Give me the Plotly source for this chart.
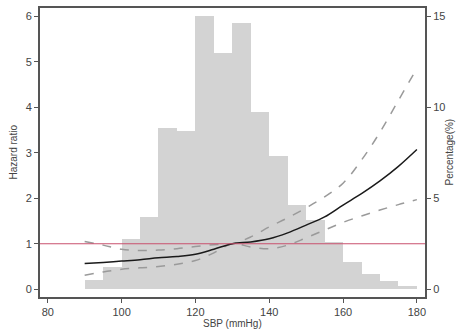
import plotly.graph_objects as go

# Histogram of SBP distribution (percentage per 5 mmHg bin)
bin_starts = [90, 95, 100, 105, 110, 115, 120, 125, 130, 135, 140, 145, 150, 155, 160, 165, 170, 175]
pct = [0.5, 1.2, 2.75, 3.97, 8.86, 8.7, 15.0, 13.0, 14.6, 9.74, 7.3, 4.65, 3.83, 2.57, 1.5, 0.86, 0.44, 0.18]

# Restricted cubic spline hazard ratio and 95% CI
sbp = [90, 95, 100, 105, 110, 115, 120, 125, 130, 135, 140, 145, 150, 155, 160, 165, 170, 175, 180]
hr = [0.565, 0.59, 0.62, 0.65, 0.69, 0.72, 0.77, 0.88, 1.0, 1.04, 1.11, 1.24, 1.41, 1.59, 1.85, 2.1, 2.38, 2.7, 3.07]
upper = [1.05, 0.97, 0.88, 0.85, 0.86, 0.89, 0.94, 0.98, 1.0, 1.15, 1.37, 1.57, 1.79, 2.03, 2.33, 2.84, 3.45, 4.15, 4.85]
lower = [0.31, 0.38, 0.44, 0.47, 0.5, 0.55, 0.63, 0.8, 1.0, 0.93, 0.89, 0.97, 1.13, 1.3, 1.47, 1.61, 1.74, 1.86, 1.97]

ref_hr = 1

axis_col = "#555555"
font = dict(family="Liberation Sans, Arial, sans-serif", size=11, color="#444444")

fig = go.Figure()
# bars on the primary axis (right side, percentage) so lines on overlaying axis draw above
fig.add_trace(go.Bar(
    x=[b + 2.5 for b in bin_starts], y=pct, width=5, yaxis="y",
    marker=dict(color="#d3d3d3", line=dict(width=0)), showlegend=False))
fig.add_trace(go.Scatter(x=sbp, y=upper, mode="lines", yaxis="y2",
                         line=dict(color="#9a9a9a", width=1.5, dash="dash", shape="spline"), showlegend=False))
fig.add_trace(go.Scatter(x=sbp, y=lower, mode="lines", yaxis="y2",
                         line=dict(color="#9a9a9a", width=1.5, dash="dash", shape="spline"), showlegend=False))
fig.add_trace(go.Scatter(x=sbp, y=hr, mode="lines", yaxis="y2",
                         line=dict(color="#1a1a1a", width=1.5, shape="spline"), showlegend=False))
fig.add_shape(type="line", xref="paper", x0=0, x1=1, yref="y2", y0=ref_hr, y1=ref_hr,
              line=dict(color="#c9506e", width=1.2), layer="above")

fig.update_layout(
    width=457, height=335,
    margin=dict(l=40, r=32, t=8, b=38, autoexpand=False),
    paper_bgcolor="white", plot_bgcolor="white",
    font=font, bargap=0,
    xaxis=dict(range=[77.9, 182.2], tickvals=[80, 100, 120, 140, 160, 180], automargin=False,
               showline=True, linecolor=axis_col, linewidth=2, mirror=True,
               ticks="outside", ticklen=4, tickcolor=axis_col, showgrid=False, zeroline=False),
    yaxis=dict(range=[-0.425, 15.45], tickvals=[0, 5, 10, 15], side="right", automargin=False,
               showline=True, linecolor=axis_col, linewidth=2,
               ticks="outside", ticklen=4, tickcolor=axis_col, showgrid=False, zeroline=False),
    yaxis2=dict(range=[-0.17, 6.18], tickvals=[0, 1, 2, 3, 4, 5, 6], overlaying="y", side="left",
                automargin=False,
                showline=True, linecolor=axis_col, linewidth=2,
                ticks="outside", ticklen=4, tickcolor=axis_col, showgrid=False, zeroline=False),
    annotations=[
        dict(text="SBP (mmHg)", xref="paper", yref="paper", x=0.5, y=0, yshift=-26,
             showarrow=False, yanchor="middle", font=dict(size=10)),
        dict(text="Hazard ratio", xref="paper", yref="paper", x=0, y=0.5, xshift=-27,
             showarrow=False, textangle=-90, xanchor="center", font=dict(size=10)),
        dict(text="Percentage(%)", xref="paper", yref="paper", x=1, y=0.5, xshift=24,
             showarrow=False, textangle=-90, xanchor="center", font=dict(size=10)),
    ],
)

fig.write_html("out.html")
